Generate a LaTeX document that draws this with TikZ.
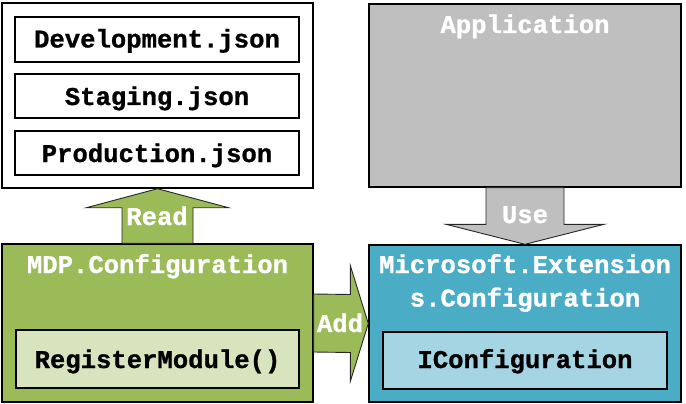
\documentclass[tikz,border=0pt]{standalone}
\usepackage{fontspec}
\newfontfamily\consfont[BoldFeatures={FakeBold=1}]{Liberation Mono}
\usetikzlibrary{calc}
\definecolor{grn}{HTML}{9BBB59}
\definecolor{lgrn}{HTML}{D7E4BD}
\definecolor{gry}{HTML}{BFBFBF}
\definecolor{blu}{HTML}{4BACC6}
\definecolor{lblu}{HTML}{A5D5E2}
\tikzset{
 box/.style={draw=black,line width=1.4pt,rectangle,inner sep=0pt},
 lbl/.style={font=\consfont\bfseries\fontsize{25.6}{33.5}\selectfont,inner sep=0pt,anchor=base},
 wlbl/.style={lbl,text=white},
 blockarrow/.style={draw=black!85,line width=0.9pt,line join=miter},
}
\begin{document}
\begin{tikzpicture}[x=1pt,y=-1pt]
\useasboundingbox (0,0) rectangle (686,404);
% left top: files
\node[box,fill=white,minimum width=311pt,minimum height=185pt] (files) at (157.5,95.5) {};
\node[box,fill=white,minimum width=284pt,minimum height=45pt] (dev) at (157,39.5) {};
\node[box,fill=white,minimum width=284pt,minimum height=44pt] (stg) at (157,96) {};
\node[box,fill=white,minimum width=284pt,minimum height=44pt] (prod) at (157,153) {};
\node[lbl] (devt) at (157,47.5) {Development.json};
\node[lbl] (stgt) at (157,105) {Staging.json};
\node[lbl] (prodt) at (157,162) {Production.json};
% left bottom: MDP
\node[box,fill=grn,minimum width=311pt,minimum height=158pt] (mdp) at (157.5,323) {};
\node[wlbl] (mdpt) at (157.5,273) {MDP.Configuration};
\node[box,fill=lgrn,minimum width=283pt,minimum height=58pt] (reg) at (157.5,359) {};
\node[lbl] (regt) at (157.5,368) {RegisterModule()};
% right top: application
\node[box,fill=gry,minimum width=312pt,minimum height=183pt] (app) at (525,95.5) {};
\node[wlbl] (appt) at (525,33) {Application};
% right bottom: Microsoft.Extensions.Configuration
\node[box,fill=blu,minimum width=312pt,minimum height=157pt] (mec) at (525,323.5) {};
\node[wlbl] (mect1) at (525,273) {Microsoft.Extension};
\node[wlbl] (mect2) at (525,306.5) {s.Configuration};
\node[box,fill=lblu,minimum width=284pt,minimum height=57pt] (icfg) at (525,360.5) {};
\node[lbl] (icfgt) at (525,368) {IConfiguration};
% Read arrow
\draw[blockarrow,fill=grn] (files.south) -- ($(files.south)+(71,19)$) -- ($(files.south)+(35.5,19)$)
  -- ($(mdp.north)+(35.5,0)$) -- ($(mdp.north)+(-35.5,0)$) -- ($(files.south)+(-35.5,19)$)
  -- ($(files.south)+(-71,19)$) -- cycle;
\node[wlbl] (readt) at (157,225) {Read};
% Add arrow
\draw[blockarrow,fill=grn] (mec.west) -- ($(mec.west)+(-18,-58)$) -- ($(mec.west)+(-18,-29)$)
  -- ($(mdp.east)+(0,-29)$) -- ($(mdp.east)+(0,29)$) -- ($(mec.west)+(-18,29)$)
  -- ($(mec.west)+(-18,58)$) -- cycle;
\node[wlbl] (addt) at (340,332) {Add};
% Use arrow
\draw[blockarrow,fill=gry] (mec.north) -- ($(mec.north)+(79,-20)$) -- ($(mec.north)+(39,-20)$)
  -- ($(app.south)+(39,0)$) -- ($(app.south)+(-39,0)$) -- ($(mec.north)+(-39,-20)$)
  -- ($(mec.north)+(-79,-20)$) -- cycle;
\node[wlbl] (uset) at (525,223) {Use};
\end{tikzpicture}
\end{document}
